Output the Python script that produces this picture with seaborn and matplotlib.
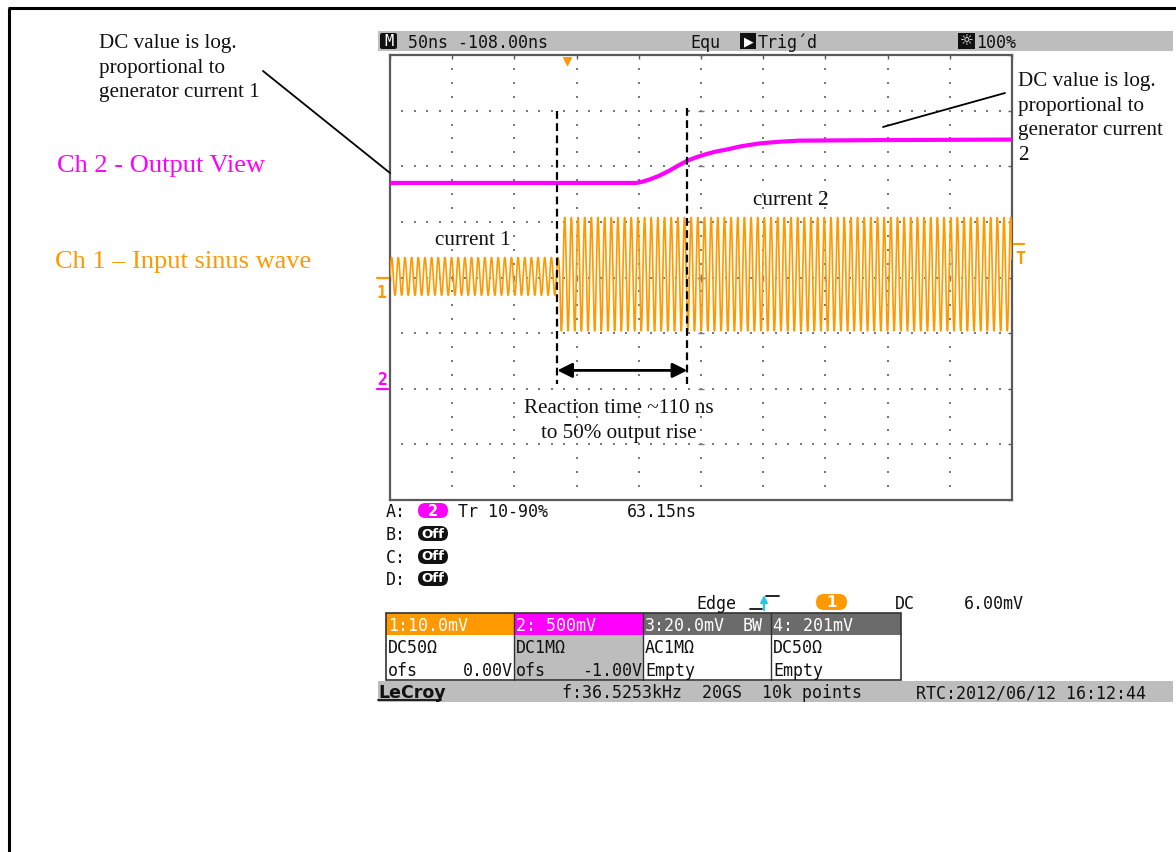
import numpy as np
import pandas as pd
import matplotlib
matplotlib.use("Agg")
import matplotlib.pyplot as plt
from matplotlib.patches import Rectangle, FancyBboxPatch
import seaborn as sns

# ---------------- trace data (screen divisions) ----------------
# Channel 2: log detector output, read as (time div, level div)
ch2_time = [0.0, 3.96, 4.05, 4.17, 4.33, 4.49, 4.63, 4.78, 4.92, 5.06, 5.22,
            5.41, 5.65, 5.94, 6.25, 6.58, 7.87, 10.0]
ch2_level = [1.70, 1.70, 1.72, 1.76, 1.83, 1.92, 2.01, 2.10, 2.16, 2.21, 2.26,
             2.30, 2.36, 2.41, 2.44, 2.46, 2.47, 2.48]

# Channel 1: sine burst whose amplitude steps up (current 1 -> current 2)
ch1_switch_div = 2.73
ch1_amp = [0.34, 1.02]
ch1_center = [0.02, 0.06]
ch1_period_div = 0.107
record_points = 10000

# cursor / marker positions (time div)
cursor_start_div = 2.69
cursor_50pct_div = 4.78
trigger_pos_div = 2.84
trigger_level_div = 0.60
ch1_ground_div = 0.0
ch2_ground_div = -2.0

# ---------------- texts ----------------
status_top = ["50ns -108.00ns", "Equ", "Trig\u00b4d", "100%"]
meas_rows = ["A:", "B:", "C:", "D:"]
meas_a = ["Tr 10-90%", "63.15ns"]
trig_info = ["Edge", "DC", "6.00mV"]
ch_headers = ["1:10.0mV", "2: 500mV", "3:20.0mV", "4: 201mV"]
ch_coupling = ["DC50\u03a9", "DC1M\u03a9", "AC1M\u03a9", "DC50\u03a9"]
ch_offset = [("ofs", "0.00V"), ("ofs", "-1.00V"), ("Empty", ""), ("Empty", "")]
status_bottom = ["LeCroy", "f:36.5253kHz  20GS  10k points", "RTC:2012/06/12 16:12:44"]

ORANGE = "#FF9900"
MAGENTA = "#FF00FF"
GRAYBAR = "#BDBDBD"
DARKCH = "#6B6B6B"
GRID = "#7A7A7A"

sns.set_style("white")
plt.rcParams["font.family"] = ["DejaVu Sans"]

W, H = 1176, 852
fig = plt.figure(figsize=(W / 100, H / 100), dpi=100)

# ---------------- scope graticule ----------------
gx0, gx1, gy0, gy1 = 390, 1012, 55, 500
ax = fig.add_axes([gx0 / W, 1 - gy1 / H, (gx1 - gx0) / W, (gy1 - gy0) / H])
ax.set_xlim(0, 10)
ax.set_ylim(-4, 4)
for sp in ax.spines.values():
    sp.set_color("#5A5A5A")
    sp.set_linewidth(1.6)
ax.set_xticks(range(11))
ax.set_yticks(range(-4, 5))
ax.tick_params(direction="in", length=3, width=1, color="#5A5A5A",
               labelbottom=False, labelleft=False, top=True, right=True)

hx = np.arange(0, 10.001, 0.2)
for yv in range(-3, 4):
    ax.scatter(hx, np.full_like(hx, yv), s=2, marker="s", color=GRID, linewidths=0, zorder=1)
vy = np.arange(-4, 4.001, 0.25)
for xv in range(1, 10):
    ax.scatter(np.full_like(vy, xv), vy, s=2, marker="s", color=GRID, linewidths=0, zorder=1)
ax.scatter(np.full(9, 5.0), np.arange(-4, 5), s=25, marker="_", color=GRID, linewidths=1, zorder=1)
ax.scatter(np.arange(0, 11), np.zeros(11), s=25, marker="|", color=GRID, linewidths=1, zorder=1)
ax.scatter([5], [0], s=40, marker="+", color=GRID, linewidths=1, zorder=1)

# channel 1 trace
t = np.linspace(0, 10, record_points)
after = t >= ch1_switch_div
amp = np.where(after, ch1_amp[1], ch1_amp[0])
ctr = np.where(after, ch1_center[1], ch1_center[0])
v1 = ctr + amp * np.sin(2 * np.pi * t / ch1_period_div)
df1 = pd.DataFrame({"t": t, "v": v1})
sns.lineplot(data=df1, x="t", y="v", ax=ax, color=ORANGE, linewidth=1.2,
             estimator=None, sort=False, errorbar=None, zorder=3)

# channel 2 trace
df2 = pd.DataFrame({"t": ch2_time, "v": ch2_level})
sns.lineplot(data=df2, x="t", y="v", ax=ax, color=MAGENTA, linewidth=3.0,
             estimator=None, sort=False, errorbar=None, zorder=4)
ax.set_xlabel("")
ax.set_ylabel("")

# cursors and reaction-time arrow
for xc, ytop in [(cursor_start_div, 3.0), (cursor_50pct_div, 3.04)]:
    ax.plot([xc, xc], [ytop, -1.92], color="black", lw=1.6,
            linestyle=(0, (3.5, 2)), zorder=6)
ax.annotate("", xy=(cursor_start_div, -1.67), xytext=(cursor_50pct_div, -1.67),
            arrowprops=dict(arrowstyle="<|-|>", color="black", lw=2,
                            mutation_scale=22, shrinkA=0, shrinkB=0), zorder=6)

# trigger position marker at top
ax.scatter([trigger_pos_div], [3.9], marker="v", s=30, color=ORANGE, zorder=6, clip_on=False)

# ---------------- overlay in pixel coordinates ----------------
ov = fig.add_axes([0, 0, 1, 1], zorder=5)
ov.set_xlim(0, W)
ov.set_ylim(H, 0)
ov.axis("off")

def py(div):
    return (gy0 + gy1) / 2 - div * (gy1 - gy0) / 8

# outer frame
ov.plot([9, 9], [8, H + 5], color="black", lw=2.2, clip_on=False, solid_capstyle="butt")
ov.plot([8, W + 5], [8, 8], color="black", lw=2.2, clip_on=False, solid_capstyle="butt")

MONO = ["DejaVu Sans Mono", "DejaVu Sans"]
SERIF = ["Liberation Serif", "DejaVu Serif"]
MS = 12

def mono(x, y, s, color="#111111", ha="left", **kw):
    ov.text(x, y, s, family=MONO, fontsize=MS, color=color, ha=ha, va="baseline", **kw)

def pill(x0, x1, y0, y1, fc, label, tc="white", fs=10.5, bold=True):
    r = (y1 - y0) / 2
    ov.add_patch(FancyBboxPatch((x0, y0), x1 - x0, y1 - y0,
                                boxstyle=f"round,pad=0,rounding_size={r}",
                                fc=fc, ec="none"))
    ov.text((x0 + x1) / 2, (y0 + y1) / 2 + 0.5, label, color=tc, ha="center", va="center",
            family=["DejaVu Sans"], fontsize=fs, fontweight="bold" if bold else "normal")

# top status bar
ov.add_patch(Rectangle((378, 31), W - 378 - 3, 20, fc=GRAYBAR, ec="none"))
ov.add_patch(FancyBboxPatch((380, 33), 17, 16, boxstyle="round,pad=0,rounding_size=2",
                            fc="#111111", ec="none"))
ov.text(388.5, 41.5, "M", color="white", ha="center", va="center", family=MONO, fontsize=11)
mono(408, 48, status_top[0])
mono(690, 48, status_top[1])
ov.add_patch(Rectangle((740, 33), 16, 16, fc="#111111", ec="none"))
ov.text(748.5, 41.5, "\u25b6", color="white", ha="center", va="center", fontsize=9)
mono(758, 48, status_top[2])
ov.add_patch(Rectangle((958, 33), 17, 16, fc="#111111", ec="none"))
ov.text(966.5, 41.5, "\u263c", color="white", ha="center", va="center", fontsize=11)
mono(976, 48, status_top[3])

# channel ground / trigger level markers
ov.plot([377, 388], [py(ch1_ground_div)] * 2, color=ORANGE, lw=1.6)
ov.text(382, py(ch1_ground_div) + 21, "1", color=ORANGE, ha="center", va="baseline",
        family=MONO, fontsize=12, fontweight="bold")
ov.plot([377, 388], [py(ch2_ground_div)] * 2, color=MAGENTA, lw=1.6)
ov.text(382, py(ch2_ground_div) - 4, "2", color=MAGENTA, ha="center", va="baseline",
        family=MONO, fontsize=12, fontweight="bold")
ov.plot([1014, 1024], [py(trigger_level_div)] * 2, color=ORANGE, lw=1.6)
ov.text(1020, py(trigger_level_div) + 20, "T", color=ORANGE, ha="center", va="baseline",
        family=MONO, fontsize=12, fontweight="bold")

# measurement rows
row_base = [517, 540, 563, 585]
for lab, yb in zip(meas_rows, row_base):
    mono(386, yb, lab)
pill(418, 448, 503, 518, MAGENTA, "2")
for yb in row_base[1:]:
    pill(418, 448, yb - 14, yb + 1, "#111111", "Off", fs=9.5)
mono(458, 517, meas_a[0])
mono(627, 517, meas_a[1])

# trigger setup line
mono(696, 609, trig_info[0])
ov.plot([750, 762], [609, 609], color="#111111", lw=1.3)
ov.plot([766, 779], [596, 596], color="#111111", lw=1.3)
ov.annotate("", xy=(764, 595), xytext=(764, 610),
            arrowprops=dict(arrowstyle="-|>", color="#22C8E8", lw=1.6, mutation_scale=10,
                            shrinkA=0, shrinkB=0))
pill(816, 847, 594, 610, ORANGE, "1", fs=11)
mono(895, 609, trig_info[1])
mono(964, 609, trig_info[2])

# channel table
cols = [386, 514, 643, 771, 901]
rows = [613, 635, 657, 680]
head_fc = [ORANGE, MAGENTA, DARKCH, DARKCH]
for i in range(4):
    x0, x1 = cols[i], cols[i + 1]
    ov.add_patch(Rectangle((x0, rows[0]), x1 - x0, rows[1] - rows[0], fc=head_fc[i], ec="none"))
    body_fc = GRAYBAR if i == 1 else "white"
    ov.add_patch(Rectangle((x0, rows[1]), x1 - x0, rows[3] - rows[1], fc=body_fc, ec="none"))
    mono(x0 + 2, 631, ch_headers[i], color="white")
    mono(x0 + 2, 653, ch_coupling[i])
    mono(x0 + 2, 676, ch_offset[i][0])
    if ch_offset[i][1]:
        mono(x1 - 1, 676, ch_offset[i][1], ha="right")
mono(743, 631, "BW", color="white")
ov.add_patch(Rectangle((cols[0], rows[0]), cols[-1] - cols[0], rows[-1] - rows[0],
                       fc="none", ec="#333333", lw=1.2))
for xc in cols[1:-1]:
    ov.plot([xc, xc], [rows[0], rows[-1]], color="#333333", lw=1.0)

# bottom status bar
ov.add_patch(Rectangle((378, 681), W - 378 - 3, 21, fc=GRAYBAR, ec="none"))
ov.text(378, 698, status_bottom[0], family=["DejaVu Sans"], fontsize=12.5,
        fontweight="bold", color="#111111", va="baseline")
ov.plot([378, 441], [700, 700], color="#111111", lw=1.3)
mono(562, 698, status_bottom[1])
mono(916, 698, status_bottom[2])

# ---------------- annotations ----------------
SF = 15.2
for i, s in enumerate(["DC value is log.", "proportional to", "generator current 1"]):
    ov.text(99, 48 + 24.5 * i, s, family=SERIF, fontsize=SF, color="#111111", va="baseline")
for i, s in enumerate(["DC value is log.", "proportional to", "generator current", "2"]):
    ov.text(1018, 86 + 24.7 * i, s, family=SERIF, fontsize=SF, color="#111111", va="baseline")
ov.plot([263, 390], [71, 173], color="black", lw=1.3)
ov.plot([1005, 883], [93, 127], color="black", lw=1.3)

ov.text(57, 172, "Ch 2 - Output View", family=SERIF, fontsize=19, color=MAGENTA, va="baseline")
ov.text(55, 268, "Ch 1 \u2013 Input sinus wave", family=SERIF, fontsize=19, color=ORANGE, va="baseline")

ov.text(435, 245, "current 1", family=SERIF, fontsize=SF, color="#111111", va="baseline")
ov.text(753, 205, "current 2", family=SERIF, fontsize=SF, color="#111111", va="baseline")
ov.text(619, 413, "Reaction time ~110 ns", family=SERIF, fontsize=SF, color="#111111",
        va="baseline", ha="center")
ov.text(619, 438, "to 50% output rise", family=SERIF, fontsize=SF, color="#111111",
        va="baseline", ha="center")

fig.savefig("out.png", dpi=100, facecolor="white")
